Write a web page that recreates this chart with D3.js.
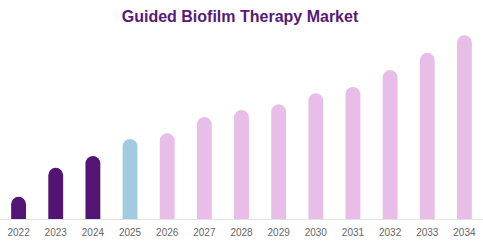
<!DOCTYPE html>
<html>
<head>
<meta charset="utf-8">
<script src="https://cdn.jsdelivr.net/npm/d3@7"></script>
<style>
  body { margin: 0; background: #fff; }
  #chart { width: 483px; height: 241px; }
</style>
</head>
<body>
<div id="chart"></div>
<script>
const years = ["2022", "2023", "2024", "2025", "2026", "2027", "2028", "2029", "2030", "2031", "2032", "2033", "2034"];
const values = [1.21, 2.79, 3.43, 4.35, 4.67, 5.55, 5.93, 6.24, 6.84, 7.19, 8.11, 9.05, 10.0];
const barColors = ["#531574", "#531574", "#531574", "#a3cbdf", "#e8bde8", "#e8bde8", "#e8bde8", "#e8bde8", "#e8bde8", "#e8bde8", "#e8bde8", "#e8bde8", "#e8bde8"];

const width = 483, height = 241;
const baseY = 219;

const svg = d3.select('#chart')
  .append('svg')
  .attr('width', width)
  .attr('height', height);

// Title
svg.append('text')
  .attr('x', 240)
  .attr('y', 21.5)
  .attr('text-anchor', 'middle')
  .attr('font-family', 'Liberation Sans, Arial, sans-serif')
  .attr('font-weight', 'bold')
  .attr('font-size', 16)
  .attr('fill', '#561a78')
  .text('Guided Biofilm Therapy Market');

const x = d3.scaleBand()
  .domain(years)
  .range([0, width])
  .paddingInner(0.6)
  .paddingOuter(0.3);

const y = d3.scaleLinear()
  .domain([0, 10])
  .range([baseY, 35.3]);

// Baseline
svg.append('line')
  .attr('x1', 0).attr('x2', width)
  .attr('y1', baseY + 0.5).attr('y2', baseY + 0.5)
  .attr('stroke', '#e2e2e2')
  .attr('stroke-width', 1);

// Bars with rounded tops
const bw = x.bandwidth();
const r = bw / 2;
function barPath(d, i) {
  const x0 = x(years[i]);
  const top = y(d);
  return `M${x0},${baseY} L${x0},${top + r} A${r},${r} 0 0 1 ${x0 + bw},${top + r} L${x0 + bw},${baseY} Z`;
}

svg.selectAll('path.bar')
  .data(values)
  .enter()
  .append('path')
  .attr('class', 'bar')
  .attr('d', barPath)
  .attr('fill', (d, i) => barColors[i]);

// X axis labels
const xAxis = d3.axisBottom(x).tickSize(0).tickPadding(0);
const gx = svg.append('g')
  .attr('transform', `translate(0,${baseY})`)
  .call(xAxis);
gx.select('.domain').remove();
gx.selectAll('text')
  .attr('dy', 0)
  .attr('y', 17.3)
  .attr('font-family', 'Liberation Sans, Arial, sans-serif')
  .attr('font-size', 10)
  .attr('fill', '#666');
</script>
</body>
</html>
